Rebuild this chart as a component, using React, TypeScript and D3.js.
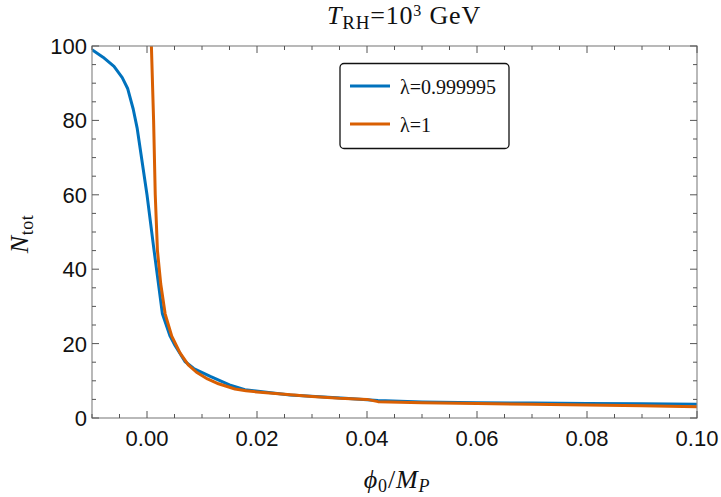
import React, { useEffect, useRef } from "react";
import * as d3 from "d3";

// lambda = 0.999995
const blueX = [-0.01, -0.008, -0.006, -0.0045, -0.0035, -0.0025, -0.0018, 0.0, 0.0012, 0.0028, 0.0042, 0.0051, 0.0069, 0.0085, 0.0115, 0.015, 0.0178, 0.026, 0.036, 0.042, 0.05, 0.06, 0.07, 0.08, 0.09, 0.1];
const blueY = [99, 97, 94.5, 91.5, 88.5, 83, 78, 60, 46, 28, 22, 19.5, 15.2, 13.3, 11.2, 8.9, 7.6, 6.2, 5.3, 4.7, 4.3, 4.1, 4.0, 3.9, 3.8, 3.7];

// lambda = 1
const orangeX = [0.0008, 0.0012, 0.0015, 0.0019, 0.0025, 0.0033, 0.0045, 0.006, 0.0075, 0.009, 0.011, 0.013, 0.016, 0.018, 0.02, 0.025, 0.03, 0.035, 0.04, 0.042, 0.05, 0.06, 0.07, 0.08, 0.09, 0.1];
const orangeY = [100, 80, 60, 45, 36, 28, 22, 17.5, 14.3, 12.3, 10.5, 9.2, 7.8, 7.3, 7.0, 6.4, 5.8, 5.3, 5.0, 4.4, 4.1, 3.9, 3.7, 3.5, 3.3, 3.0];

const xTicks = [0.0, 0.02, 0.04, 0.06, 0.08, 0.1];
const yTicks = [0, 20, 40, 60, 80, 100];
const legendLabels = ["λ=0.999995", "λ=1"];
const colors = ["#0072bd", "#d95f02"];

const W = 721;
const H = 497;

const App = () => {
  const ref = useRef<SVGSVGElement>(null);

  useEffect(() => {
    const svg = d3.select(ref.current);
    svg.selectAll("*").remove();

    const margin = { top: 46, right: 24, bottom: 79, left: 92 };
    const width = W - margin.left - margin.right;
    const height = H - margin.top - margin.bottom;

    const x = d3.scaleLinear().domain([-0.01, 0.1]).range([margin.left, margin.left + width]);
    const y = d3.scaleLinear().domain([0, 100]).range([margin.top + height, margin.top]);

    const axisColor = "#8a8a8a";
    const tickFont = "'Liberation Sans', Arial, sans-serif";
    const serif = "'Liberation Serif', 'Times New Roman', serif";

    // clip for curves
    svg.append("defs").append("clipPath").attr("id", "plotClip")
      .append("rect")
      .attr("x", margin.left).attr("y", margin.top)
      .attr("width", width).attr("height", height);

    // curves
    const line = d3.line<[number, number]>()
      .x(d => x(d[0]))
      .y(d => y(d[1]));

    const series = [
      d3.zip(blueX, blueY) as [number, number][],
      d3.zip(orangeX, orangeY) as [number, number][],
    ];

    series.forEach((s, i) => {
      svg.append("path")
        .datum(s)
        .attr("clip-path", "url(#plotClip)")
        .attr("fill", "none")
        .attr("stroke", colors[i])
        .attr("stroke-width", 3)
        .attr("stroke-linejoin", "round")
        .attr("d", line);
    });

    // frame
    svg.append("rect")
      .attr("x", margin.left).attr("y", margin.top)
      .attr("width", width).attr("height", height)
      .attr("fill", "none")
      .attr("stroke", axisColor)
      .attr("stroke-width", 1.2);

    // ticks (inward, on all four sides)
    const xMinor = d3.range(-0.01, 0.1001, 0.005);
    const yMinor = d3.range(0, 100.01, 5);
    const tickGroup = svg.append("g").attr("stroke", "#555").attr("stroke-width", 1);

    xMinor.forEach(v => {
      const major = xTicks.some(t => Math.abs(t - v) < 1e-6);
      const len = major ? 7 : 4;
      tickGroup.append("line")
        .attr("x1", x(v)).attr("x2", x(v))
        .attr("y1", y(0)).attr("y2", y(0) - len);
      tickGroup.append("line")
        .attr("x1", x(v)).attr("x2", x(v))
        .attr("y1", y(100)).attr("y2", y(100) + len);
    });

    yMinor.forEach(v => {
      const major = yTicks.includes(Math.round(v));
      const len = major ? 7 : 4;
      tickGroup.append("line")
        .attr("x1", x(-0.01)).attr("x2", x(-0.01) + len)
        .attr("y1", y(v)).attr("y2", y(v));
      tickGroup.append("line")
        .attr("x1", x(0.1)).attr("x2", x(0.1) - len)
        .attr("y1", y(v)).attr("y2", y(v));
    });

    // tick labels
    svg.append("g")
      .selectAll("text")
      .data(xTicks)
      .enter().append("text")
      .attr("x", d => x(d))
      .attr("y", y(0) + 28)
      .attr("text-anchor", "middle")
      .attr("font-family", tickFont)
      .attr("font-size", 22)
      .attr("fill", "#111")
      .text(d => d3.format(".2f")(d));

    svg.append("g")
      .selectAll("text")
      .data(yTicks)
      .enter().append("text")
      .attr("x", margin.left - 5)
      .attr("y", d => y(d) + 8)
      .attr("text-anchor", "end")
      .attr("font-family", tickFont)
      .attr("font-size", 22)
      .attr("fill", "#111")
      .text(d => d);

    // title
    const title = svg.append("text")
      .attr("x", 404)
      .attr("y", 24)
      .attr("text-anchor", "middle")
      .attr("font-family", serif)
      .attr("font-size", 26)
      .attr("letter-spacing", 0.8)
      .attr("fill", "#111");
    title.append("tspan").attr("font-style", "italic").text("T");
    title.append("tspan").attr("font-size", 19).attr("dy", 5).text("RH");
    title.append("tspan").attr("dy", -5).text("=10");
    title.append("tspan").attr("font-size", 16).attr("dy", -8).text("3");
    title.append("tspan").attr("dy", 8).text(" GeV");

    // x label
    const xl = svg.append("text")
      .attr("x", 397)
      .attr("y", 488)
      .attr("text-anchor", "middle")
      .attr("font-family", serif)
      .attr("font-size", 26)
      .attr("letter-spacing", 0.8)
      .attr("fill", "#111");
    xl.append("tspan").attr("font-style", "italic").text("ϕ");
    xl.append("tspan").attr("font-size", 18).attr("dy", 4).text("0");
    xl.append("tspan").attr("dy", -4).text("/");
    xl.append("tspan").attr("font-style", "italic").text("M");
    xl.append("tspan").attr("font-style", "italic").attr("font-size", 18).attr("dy", 4).text("P");

    // y label
    const yl = svg.append("text")
      .attr("transform", "translate(28, 234) rotate(-90)")
      .attr("text-anchor", "middle")
      .attr("font-family", serif)
      .attr("font-size", 26)
      .attr("letter-spacing", 0.5)
      .attr("fill", "#111");
    yl.append("tspan").attr("font-style", "italic").text("N");
    yl.append("tspan").attr("font-size", 18).attr("dy", 5).text("tot");

    // legend
    const lg = svg.append("g");
    lg.append("rect")
      .attr("x", 340).attr("y", 63.5)
      .attr("width", 169).attr("height", 85)
      .attr("rx", 4)
      .attr("fill", "white")
      .attr("stroke", "#111")
      .attr("stroke-width", 1.3);

    legendLabels.forEach((label, i) => {
      const ly = 86 + i * 38;
      lg.append("line")
        .attr("x1", 350).attr("x2", 390)
        .attr("y1", ly).attr("y2", ly)
        .attr("stroke", colors[i])
        .attr("stroke-width", 3);
      lg.append("text")
        .attr("x", 400)
        .attr("y", ly + 7.5)
        .attr("font-family", serif)
        .attr("font-size", 20)
        .attr("fill", "#111")
        .text(label);
    });
  }, []);

  return (
    <svg
      ref={ref}
      width={W}
      height={H}
      style={{ position: "absolute", left: 0, top: 0, background: "white" }}
    />
  );
};

export default App;
